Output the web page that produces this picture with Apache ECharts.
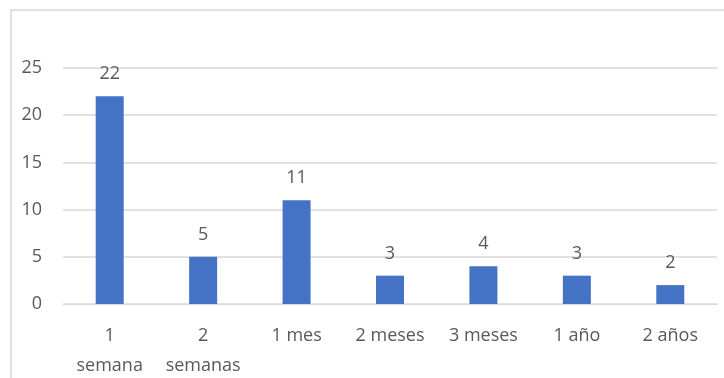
<!DOCTYPE html>
<html>
<head>
<meta charset="utf-8">
<script src="https://cdn.jsdelivr.net/npm/echarts@6/dist/echarts.min.js"></script>
<style>
  html, body { margin: 0; padding: 0; background: #fff; }
  #chart { width: 724px; height: 378px; }
</style>
</head>
<body>
<div id="chart"></div>
<script>
// datos del gráfico
var categorias = ['1\nsemana', '2\nsemanas', '1 mes', '2 meses', '3 meses', '1 año', '2 años'];
var valores = [22, 5, 11, 3, 4, 3, 2];
var ticksY = [0, 5, 10, 15, 20, 25];

var chart = echarts.init(document.getElementById('chart'));
var fuente = '"Open Sans", "Liberation Sans", sans-serif';

chart.setOption({
    animation: false,
    graphic: [{
        type: 'rect',
        shape: { x: 11, y: 10, width: 760, height: 400 },
        style: { fill: 'none', stroke: '#d9d9d9', lineWidth: 1.5 },
        silent: true
    }],
    grid: { left: 63, right: 7, top: 68, bottom: 74, outerBoundsMode: 'none', containLabel: false },
    xAxis: {
        type: 'category',
        data: categorias,
        axisLine: { lineStyle: { color: '#d9d9d9' } },
        axisTick: { show: false },
        axisLabel: {
            color: '#595959',
            fontSize: 18,
            fontFamily: fuente,
            lineHeight: 30,
            margin: 17,
            interval: 0
        }
    },
    yAxis: {
        type: 'value',
        min: ticksY[0],
        max: ticksY[ticksY.length - 1],
        interval: 5,
        axisLine: { show: false },
        axisTick: { show: false },
        splitLine: { lineStyle: { color: '#d9d9d9', width: 1.5 } },
        axisLabel: {
            color: '#595959',
            fontSize: 18,
            fontFamily: fuente,
            margin: 21
        }
    },
    series: [{
        type: 'bar',
        data: valores,
        barWidth: 28,
        itemStyle: { color: '#4472c4' },
        label: {
            show: true,
            position: 'top',
            distance: 13,
            color: '#595959',
            fontSize: 18,
            fontFamily: fuente
        }
    }]
});
</script>
</body>
</html>
